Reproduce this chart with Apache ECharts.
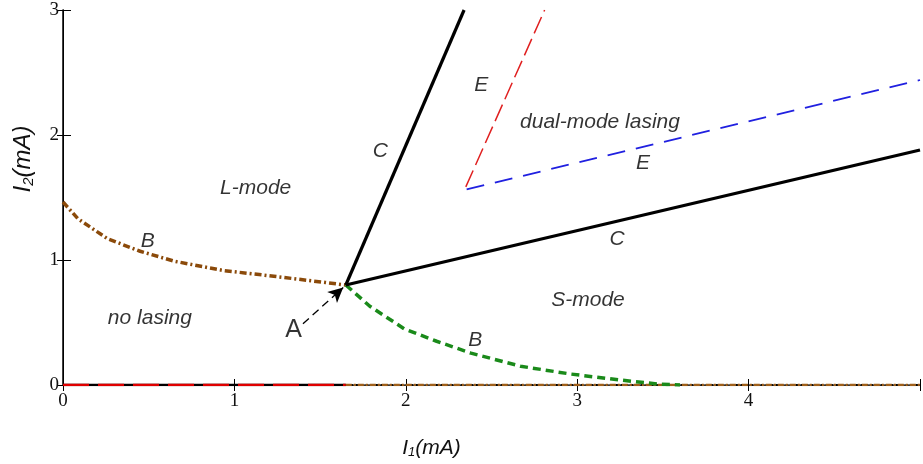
<!DOCTYPE html>
<html><head><meta charset="utf-8">
<script src="https://cdn.jsdelivr.net/npm/echarts@6/dist/echarts.min.js"></script>
<style>html,body{margin:0;padding:0;background:#fff}#c{width:923px;height:464px}</style>
</head><body><div id="c"></div>
<script>
const xTickLabels = ['0','1','2','3','4',''];
const yTickLabels = ['0','1','2','3'];
const curveC_up = [[1.65,0.8],[2.34,3]];
const curveC_right = [[1.65,0.8],[5,1.88]];
const curveE_red = [[2.35,1.585],[2.81,3]];
const curveE_blue = [[2.355,1.565],[5,2.44]];
const curveB_brown = [[0,1.464],[0.087,1.33],[0.26,1.17],[0.45,1.07],[0.65,0.99],[0.94,0.915],[1.23,0.87],[1.53,0.82],[1.65,0.8]];
const curveB_green = [[1.65,0.8],[1.79,0.63],[1.99,0.45],[2.18,0.35],[2.38,0.255],[2.67,0.15],[2.96,0.088],[3.25,0.04],[3.47,0.008],[3.6,0]];
const baseLeft = [[0,0],[1.65,0]];
const baseRight = [[1.65,0],[5,0]];
const arrowA = [[1.40,0.49],[1.635,0.78]];
const regionLabels = [
  {text:'L-mode', pos:[1.124,1.575]},
  {text:'C', pos:[1.852,1.87]},
  {text:'E', pos:[2.44,2.395]},
  {text:'dual-mode lasing', pos:[3.133,2.10]},
  {text:'E', pos:[3.384,1.774]},
  {text:'B', pos:[0.495,1.153]},
  {text:'C', pos:[3.232,1.17]},
  {text:'no lasing', pos:[0.507,0.533]},
  {text:'S-mode', pos:[3.063,0.676]},
  {text:'B', pos:[2.405,0.358]}
];
const pointLabelA = [{text:'A', pos:[1.345,0.4375]}];

const chart = echarts.init(document.getElementById('c'));
const tickLblStyle = {fontFamily:'Liberation Serif', fontSize:19, color:'#111'};
function lineS(data, color, width, type, z){
  return {type:'line', data, symbol:'none', silent:true, z:z||2, animation:false,
    lineStyle:{color, width, type: type||'solid', cap:'butt'}};
}
function nameRich(size){
  return {i:{fontFamily:'Liberation Sans', fontStyle:'italic', fontSize:size, color:'#111'},
          s:{fontFamily:'Liberation Sans', fontStyle:'italic', fontSize:Math.round(size*0.62), color:'#111', verticalAlign:'bottom', padding:[Math.round(size*0.45),0,0,0]}};
}
chart.setOption({
  animation:false,
  grid:{left:63, right:0, top:10, bottom:77},
  xAxis:[{
    type:'value', min:0, max:5, interval:1,
    axisLine:{lineStyle:{color:'#000', width:1}},
    axisTick:{inside:true, length:6, lineStyle:{color:'#000'}},
    splitLine:{show:false},
    axisLabel:{...tickLblStyle, margin:7, formatter:(v)=>xTickLabels[Math.round(v)] ?? ''},
    name:'{i|I}{s|1}{i|(mA)}', nameLocation:'middle', nameGap:52,
    nameTextStyle:{padding:[0,120,0,0], rich:nameRich(21)}
  },{
    type:'value', min:0, max:5, interval:1, position:'top',
    axisLine:{lineStyle:{color:'#444', width:1.5}},
    axisTick:{inside:true, length:6, lineStyle:{color:'#000'}},
    axisLabel:{show:false}, splitLine:{show:false}
  }],
  yAxis:[{
    type:'value', min:0, max:3, interval:1,
    axisLine:{show:true, lineStyle:{color:'#000', width:1.5}},
    axisTick:{show:true, inside:true, length:8, lineStyle:{color:'#000'}},
    splitLine:{show:false},
    axisLabel:{...tickLblStyle, margin:4, formatter:(v)=>yTickLabels[Math.round(v)] ?? ''},
    name:'{i|I}{s|2}{i|(mA)}', nameLocation:'middle', nameGap:27, nameRotate:90,
    nameTextStyle:{padding:[0,0,0,77], rich:nameRich(24)}
  },{
    type:'value', min:0, max:3, interval:1, position:'right',
    axisLine:{show:true, lineStyle:{color:'#000'}},
    axisTick:{show:true, inside:true, length:6, lineStyle:{color:'#000'}},
    axisLabel:{show:false}, splitLine:{show:false}
  }],
  series:[
    lineS(baseLeft, '#000', 2.5, 'solid', 3),
    lineS(baseLeft, '#e00000', 2.5, [26,9], 4),
    lineS(baseRight, '#000', 2, [2,3], 3),
    lineS(baseRight, '#a0601a', 2.5, [6,2,2,2], 4),
    lineS(curveB_brown, '#8b4a0a', 3.5, [7,3,2,3], 5),
    lineS(curveB_green, '#1a8a1a', 3.5, [8,5], 5),
    lineS(curveC_up, '#000', 3.2, 'solid', 6),
    lineS(curveC_right, '#000', 3.2, 'solid', 6),
    lineS(curveE_red, '#e02020', 1.5, [18,6], 6),
    lineS(curveE_blue, '#2020e0', 1.8, [18,11], 6),
    {type:'line', data:[], symbol:'none', silent:true, z:7,
      markLine:{silent:true, symbol:['none','arrow'], symbolSize:[11,15], animation:false, label:{show:false},
        lineStyle:{color:'#000', width:1.3, type:[8,5]},
        data:[[{coord:arrowA[0]},{coord:arrowA[1]}]]}},
    {type:'scatter', symbolSize:0, silent:true, z:8,
      data:regionLabels.map(d=>({value:d.pos, name:d.text})),
      label:{show:true, position:'inside', formatter:p=>p.name,
        fontFamily:'Liberation Sans', fontStyle:'italic', fontSize:21, color:'#000'}},
    {type:'scatter', symbolSize:0, silent:true, z:8,
      data:pointLabelA.map(d=>({value:d.pos, name:d.text})),
      label:{show:true, position:'inside', formatter:p=>p.name,
        fontFamily:'Liberation Sans', fontSize:25, color:'#000'}}
  ]
});
</script></body></html>
